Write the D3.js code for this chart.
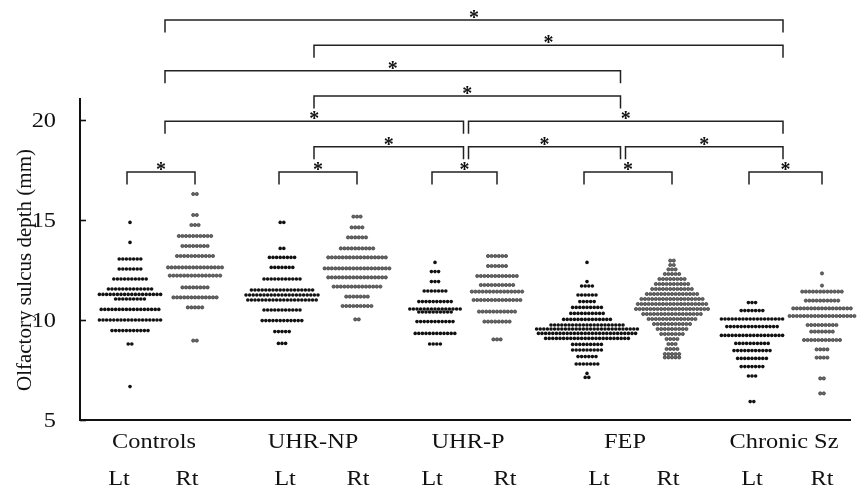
<!DOCTYPE html>
<html>
<head>
<meta charset="utf-8">
<script src="https://cdn.jsdelivr.net/npm/d3@7"></script>
<style>
  html, body { margin: 0; padding: 0; background: #fff; }
  svg { display: block; filter: grayscale(100%); }
  text { font-family: "Liberation Serif", "Times New Roman", serif; fill: #111; }
</style>
</head>
<body>
<svg id="chart" width="862" height="492"></svg>
<script>
// ---------------- DATA ----------------
const groups = ["Controls", "UHR-NP", "UHR-P", "FEP", "Chronic Sz"];
const sides = ["Lt", "Rt"];
const yTicks = [5, 10, 15, 20];

// Each column: row values (mm) and number of subjects on that row
const controlsLtValues = [14.88, 13.88, 13.05, 12.55, 12.05, 11.55, 11.28, 11.05, 10.53, 10.0, 9.47, 8.8, 6.67];
const controlsLtCounts = [1, 1, 7, 7, 10, 13, 18, 9, 17, 18, 11, 2, 1];
const controlsRtValues = [16.3, 15.25, 14.75, 14.2, 13.7, 13.2, 12.63, 12.22, 11.63, 11.13, 10.63, 8.97];
const controlsRtCounts = [2, 2, 3, 10, 8, 11, 16, 15, 8, 13, 5, 2];

const uhrnpLtValues = [14.88, 13.58, 13.13, 12.63, 12.05, 11.5, 11.25, 11.0, 10.5, 9.97, 9.42, 8.83];
const uhrnpLtCounts = [2, 2, 8, 7, 11, 18, 21, 20, 11, 12, 5, 3];
const uhrnpRtValues = [15.17, 14.63, 14.13, 13.58, 13.13, 12.58, 12.13, 11.67, 11.17, 10.7, 10.03];
const uhrnpRtCounts = [3, 4, 6, 10, 17, 19, 17, 14, 7, 9, 2];

const uhrpLtValues = [12.88, 12.42, 11.92, 11.45, 10.92, 10.55, 10.4, 9.92, 9.33, 8.8];
const uhrpLtCounts = [1, 3, 3, 7, 10, 15, 10, 11, 12, 4];
const uhrpRtValues = [13.2, 12.7, 12.2, 11.75, 11.42, 11.0, 10.42, 9.92, 9.03];
const uhrpRtCounts = [6, 6, 12, 10, 15, 14, 11, 8, 3];

const fepLtValues = [12.88, 11.92, 11.7, 11.25, 10.92, 10.63, 10.33, 10.03, 9.75, 9.55, 9.33, 9.08, 8.78, 8.5, 8.17, 7.8, 7.33, 7.13];
const fepLtCounts = [1, 1, 4, 6, 5, 9, 10, 14, 21, 29, 28, 24, 9, 9, 6, 7, 1, 2];
const fepRtValues = [12.97, 12.75, 12.53, 12.3, 12.05, 11.8, 11.55, 11.3, 11.05, 10.8, 10.55, 10.3, 10.05, 9.8, 9.55, 9.3, 9.05, 8.8, 8.55, 8.3, 8.13];
const fepRtCounts = [2, 2, 3, 5, 8, 10, 12, 15, 18, 20, 21, 17, 14, 11, 9, 7, 4, 3, 4, 5, 5];

const chronicLtValues = [10.87, 10.47, 10.05, 9.67, 9.23, 8.83, 8.47, 8.08, 7.67, 7.2, 5.92];
const chronicLtCounts = [3, 7, 18, 15, 18, 10, 11, 9, 7, 3, 2];
const chronicRtValues = [12.33, 11.72, 11.42, 10.97, 10.58, 10.2, 9.75, 9.42, 9.0, 8.53, 8.12, 7.08, 6.33];
const chronicRtCounts = [1, 1, 12, 10, 17, 19, 9, 7, 11, 4, 4, 2, 2];

// Significance brackets: [fromGroup, toGroup, level]  (level 0 = topmost)
const bracketFrom = ["Controls", "UHR-NP", "Controls", "UHR-NP", "Controls", "UHR-P", "UHR-NP", "UHR-P", "FEP"];
const bracketTo   = ["Chronic Sz", "Chronic Sz", "FEP", "FEP", "UHR-P", "Chronic Sz", "UHR-P", "FEP", "Chronic Sz"];
const bracketLevel = [0, 1, 2, 3, 4, 4, 5, 5, 5];
const bracketLabel = "*";

// ---------------- LAYOUT ----------------
const svg = d3.select("#chart");
const axisX = 80, axisRight = 851;
const fontSize = 21, stretch = 1.16;

const y = d3.scaleLinear().domain([5, 20]).range([420, 120]);

const columns = [
  { g: "Controls", s: "Lt", v: controlsLtValues, n: controlsLtCounts },
  { g: "Controls", s: "Rt", v: controlsRtValues, n: controlsRtCounts },
  { g: "UHR-NP", s: "Lt", v: uhrnpLtValues, n: uhrnpLtCounts },
  { g: "UHR-NP", s: "Rt", v: uhrnpRtValues, n: uhrnpRtCounts },
  { g: "UHR-P", s: "Lt", v: uhrpLtValues, n: uhrpLtCounts },
  { g: "UHR-P", s: "Rt", v: uhrpRtValues, n: uhrpRtCounts },
  { g: "FEP", s: "Lt", v: fepLtValues, n: fepLtCounts },
  { g: "FEP", s: "Rt", v: fepRtValues, n: fepRtCounts },
  { g: "Chronic Sz", s: "Lt", v: chronicLtValues, n: chronicLtCounts },
  { g: "Chronic Sz", s: "Rt", v: chronicRtValues, n: chronicRtCounts }
];
const colKey = c => c.g + "|" + c.s;

const colX = d3.scaleOrdinal()
  .domain(columns.map(colKey))
  .range([130, 195, 282, 357, 435, 497, 587, 672, 752, 822]);
const sideLabelX = d3.scaleOrdinal()
  .domain(columns.map(colKey))
  .range([119, 187, 285, 358, 432, 505, 599, 668, 752, 822]);
const groupLabelX = d3.scaleOrdinal().domain(groups).range([154, 313, 468, 625, 784]);
const groupAnchor = d3.scaleOrdinal().domain(groups).range([165, 314, 466, 623, 783]);
const bracketY = d3.scaleLinear().domain([0, 6]).range([20, 172]);

// ---------------- AXES ----------------
svg.append("line")
  .attr("x1", axisX).attr("x2", axisX)
  .attr("y1", 98).attr("y2", 421)
  .attr("stroke", "#111").attr("stroke-width", 2);
svg.append("line")
  .attr("x1", axisX - 1).attr("x2", axisRight)
  .attr("y1", 420).attr("y2", 420)
  .attr("stroke", "#111").attr("stroke-width", 2.2);

const yAxis = d3.axisRight(y).tickValues(yTicks).tickSize(6).tickFormat("");
const yg = svg.append("g").attr("transform", `translate(${axisX},0)`).call(yAxis);
yg.select(".domain").remove();
yg.selectAll(".tick line").attr("stroke", "#111").attr("stroke-width", 1.6);

svg.selectAll("text.ytick").data(yTicks).join("text")
  .attr("class", "ytick")
  .attr("transform", d => `translate(56,${y(d)}) scale(${stretch},1)`)
  .attr("dy", "0.35em")
  .attr("text-anchor", "end")
  .attr("font-size", fontSize)
  .text(d => d);

svg.append("text")
  .attr("transform", `translate(24,270) rotate(-90)`)
  .attr("text-anchor", "middle")
  .attr("dy", "0.35em")
  .attr("font-size", 21)
  .text("Olfactory sulcus depth (mm)");

svg.selectAll("text.glabel").data(groups).join("text")
  .attr("class", "glabel")
  .attr("transform", d => `translate(${groupLabelX(d)},441) scale(${stretch},1)`)
  .attr("dy", "0.35em")
  .attr("text-anchor", "middle")
  .attr("font-size", fontSize)
  .text(d => d);

svg.selectAll("text.slabel").data(columns).join("text")
  .attr("class", "slabel")
  .attr("transform", d => `translate(${sideLabelX(colKey(d))},478) scale(${stretch},1)`)
  .attr("dy", "0.35em")
  .attr("text-anchor", "middle")
  .attr("font-size", fontSize)
  .text(d => d.s);

// ---------------- DOTS ----------------
const spacing = 3.6;
const points = [];
columns.forEach(c => {
  c.v.forEach((val, i) => {
    const n = c.n[i];
    for (let k = 0; k < n; k++) {
      points.push({ col: c, value: val, offset: (k - (n - 1) / 2) * spacing });
    }
  });
});

svg.append("g").selectAll("circle").data(points).join("circle")
  .attr("cx", d => colX(colKey(d.col)) + d.offset)
  .attr("cy", d => y(d.value))
  .attr("r", d => d.col.s === "Lt" ? 1.8 : 1.6)
  .attr("fill", d => d.col.s === "Lt" ? "#111" : "#6a6a6a")
  .attr("stroke", d => d.col.s === "Lt" ? "none" : "#333")
  .attr("stroke-width", 0.7);

// ---------------- BRACKETS ----------------
const brackets = bracketFrom.map((f, i) => ({ from: f, to: bracketTo[i], level: bracketLevel[i] }));
const gap = 2.5;
const bg = svg.append("g");
function star(x, yy) {
  bg.append("text")
    .attr("class", "star")
    .attr("x", x).attr("y", yy + 4)
    .attr("text-anchor", "middle").attr("font-size", 20)
    .attr("font-weight", "bold")
    .attr("fill", "#111")
    .text(bracketLabel);
}
brackets.forEach(b => {
  const x1 = groupAnchor(b.from) + (b.from === "Controls" || b.from === "UHR-NP" ? 0 : gap);
  const x2 = groupAnchor(b.to) - (b.to === "Chronic Sz" ? 0 : gap);
  const yy = bracketY(b.level);
  bg.append("path")
    .attr("d", `M${x1},${yy + 12.5}V${yy}H${x2}V${yy + 12.5}`)
    .attr("fill", "none").attr("stroke", "#222").attr("stroke-width", 1.5);
  star((x1 + x2) / 2, yy);
});

// Lt vs Rt within-group brackets
const yb = bracketY(6);
groups.forEach(g => {
  const x1 = colX(g + "|Lt") - 3, x2 = colX(g + "|Rt");
  bg.append("path")
    .attr("d", `M${x1},${yb + 12.5}V${yb}H${x2}V${yb + 12.5}`)
    .attr("fill", "none").attr("stroke", "#222").attr("stroke-width", 1.5);
  star((x1 + x2) / 2, yb);
});
</script>
</body>
</html>
